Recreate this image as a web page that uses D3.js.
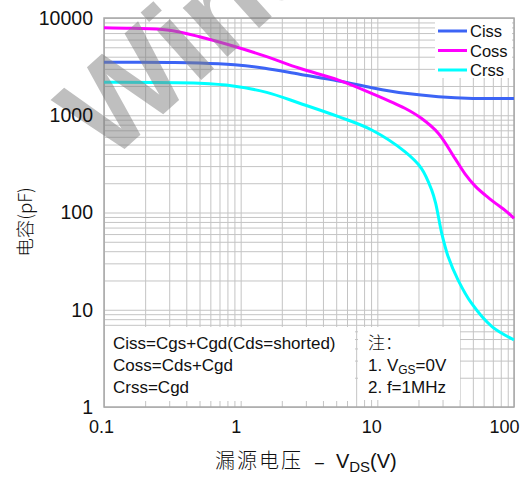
<!DOCTYPE html>
<html>
<head>
<meta charset="utf-8">
<script src="https://cdn.jsdelivr.net/npm/d3@7"></script>
<style>
  body { margin: 0; background: #fff; }
  svg { display: block; font-family: Arial, "Liberation Sans", sans-serif; }
</style>
</head>
<body>
<div id="chart"></div>
<script>
// capacitance vs drain-source voltage
var cissV = [0.1, 0.3, 0.5, 0.9, 1.5, 2.7, 5.2, 9.1, 16, 28, 50, 100];
var cissC = [3500, 3490, 3450, 3300, 3050, 2640, 2250, 1920, 1680, 1550, 1490, 1490];

var cossV = [0.1, 0.16, 0.29, 0.5, 0.88, 1.55, 2.7, 5.2, 9.1, 15.9, 21, 28, 37, 43.8, 51.8, 61.9, 73.4, 86.9, 100];
var cossC = [7950, 7840, 7530, 6420, 5150, 4000, 3040, 2300, 1680, 1180, 930, 650, 360, 250, 188, 150, 124, 104, 87];

var crssV = [0.1, 0.5, 0.88, 1.55, 2.7, 5.2, 9.1, 15.9, 21, 25, 26.7, 29.6, 33, 39, 49, 69, 100];
var crssC = [2180, 2130, 2000, 1720, 1330, 967, 705, 422, 285, 170, 125, 61, 35, 20.2, 11.6, 6.7, 4.9];

var seriesNames = ["Ciss", "Coss", "Crss"];
var seriesColors = ["#3c64f5", "#ff00ff", "#00ffff"];

var xTicks = [0.1, 1, 10, 100];
var yTicks = [1, 10, 100, 1000, 10000];
var formulaLines = ["Ciss=Cgs+Cgd(Cds=shorted)", "Coss=Cds+Cgd", "Crss=Cgd"];

var W = 532, H = 477;
// plot box (don't call these top/left: window.top is read-only)
var pL = 104, pR = 514, pT = 18, pB = 407;

var svg = d3.select("#chart").append("svg")
  .attr("width", W)
  .attr("height", H);

var x = d3.scaleLog().domain([0.1, 100]).range([pL, pR]);
var y = d3.scaleLog().domain([1, 10000]).range([pB, pT]);

// minor + major grid values
var xGrid = [], yGrid = [];
[0.1, 1, 10].forEach(function (d) { for (var k = 1; k < 10; k++) xGrid.push(d * k); });
xGrid.push(100);
[1, 10, 100, 1000].forEach(function (d) { for (var k = 1; k < 10; k++) yGrid.push(d * k); });
yGrid.push(10000);

var gridColor = "#c4c4c4";

svg.append("g")
  .attr("transform", "translate(0," + pB + ")")
  .call(d3.axisBottom(x).tickValues(xGrid).tickSize(-(pB - pT)).tickFormat(""))
  .call(function (g) { g.select(".domain").remove(); })
  .selectAll("line").attr("stroke", gridColor);

svg.append("g")
  .attr("transform", "translate(" + pL + ",0)")
  .call(d3.axisLeft(y).tickValues(yGrid).tickSize(-(pR - pL)).tickFormat(""))
  .call(function (g) { g.select(".domain").remove(); })
  .selectAll("line").attr("stroke", gridColor);

// frame
svg.append("rect")
  .attr("x", pL).attr("y", pT)
  .attr("width", pR - pL).attr("height", pB - pT)
  .attr("fill", "none")
  .attr("stroke", "#a8a8a8")
  .attr("stroke-width", 1.5);

// note boxes at the bottom of the plot
svg.append("rect").attr("x", pL + 1).attr("y", 327).attr("width", 250).attr("height", 74).attr("fill", "#fff");
svg.append("rect").attr("x", 358).attr("y", 327).attr("width", 102).attr("height", 73).attr("fill", "#fff");

var note = svg.append("g").attr("font-size", 17).attr("fill", "#111");
formulaLines.forEach(function (t, i) {
  note.append("text").attr("x", 113).attr("y", 349 + i * 22).text(t);
});
note.append("text").attr("x", 368).attr("y", 349)
  .attr("font-family", "'Noto Sans CJK SC', sans-serif").attr("font-weight", 300)
  .text("注：");
var n1 = note.append("text").attr("x", 368).attr("y", 371);
n1.append("tspan").text("1. V");
n1.append("tspan").attr("font-size", 12).attr("dy", 3).text("GS");
n1.append("tspan").attr("dy", -3).text("=0V");
note.append("text").attr("x", 368).attr("y", 393).text("2. f=1MHz");

// curves
var line = d3.line()
  .x(function (d) { return x(d[0]); })
  .y(function (d) { return y(d[1]); })
  .curve(d3.curveCatmullRom.alpha(0.5));

var series = [
  d3.zip(cissV, cissC),
  d3.zip(cossV, cossC),
  d3.zip(crssV, crssC)
];

series.forEach(function (pts, i) {
  svg.append("path")
    .datum(pts)
    .attr("d", line)
    .attr("fill", "none")
    .attr("stroke", seriesColors[i])
    .attr("stroke-width", 3);
});

// legend
svg.append("rect").attr("x", 435).attr("y", pT + 1).attr("width", 77).attr("height", 59).attr("fill", "#fff");
seriesNames.forEach(function (name, i) {
  var ly = 31 + i * 19.5;
  svg.append("line")
    .attr("x1", 438).attr("x2", 467)
    .attr("y1", ly).attr("y2", ly)
    .attr("stroke", seriesColors[i])
    .attr("stroke-width", 3);
  svg.append("text")
    .attr("x", 470).attr("y", ly + 6)
    .attr("font-size", 16.5)
    .attr("fill", "#111")
    .text(name);
});

// watermark, drawn over the curves like in the scan
svg.append("text")
  .attr("transform", "translate(108,164) rotate(-42)")
  .attr("font-size", 125)
  .attr("font-weight", "bold")
  .attr("fill", "#808080")
  .attr("opacity", 0.5)
  .text("Winsok");

// tick labels
svg.append("g")
  .attr("transform", "translate(" + pL + ",0)")
  .call(d3.axisLeft(y).tickValues(yTicks).tickSize(0).tickPadding(11).tickFormat(d3.format("d")))
  .call(function (g) { g.select(".domain").remove(); })
  .selectAll("text")
  .attr("font-size", 19.5)
  .attr("font-family", "Arial, 'Liberation Sans', sans-serif")
  .attr("fill", "#111");

var xOffsets = [-3, -5, -6, -10];
svg.append("g")
  .attr("transform", "translate(0," + pB + ")")
  .call(d3.axisBottom(x).tickValues(xTicks).tickSize(0).tickPadding(13)
    .tickFormat(function (d) { return d < 1 ? "0.1" : d3.format("d")(d); }))
  .call(function (g) { g.select(".domain").remove(); })
  .selectAll("text")
  .attr("font-size", 18)
  .attr("font-family", "Arial, 'Liberation Sans', sans-serif")
  .attr("fill", "#111")
  .attr("dx", function (d, i) { return xOffsets[i]; });

// axis titles
var xt = svg.append("text")
  .attr("x", 215).attr("y", 468)
  .attr("font-size", 20)
  .attr("fill", "#111");
xt.append("tspan")
  .attr("font-family", "'Noto Sans CJK SC', sans-serif")
  .attr("font-weight", 300)
  .attr("letter-spacing", 2)
  .text("漏源电压");
xt.append("tspan").attr("dx", 12).attr("font-size", 16).text("–");
xt.append("tspan").attr("dx", 12).text("V");
xt.append("tspan").attr("font-size", 15).attr("dy", 4).text("DS");
xt.append("tspan").attr("dy", -4).text("(V)");

svg.append("text")
  .attr("transform", "translate(32,222) rotate(-90)")
  .attr("text-anchor", "middle")
  .attr("font-size", 18.5)
  .attr("fill", "#111")
  .attr("font-family", "'Noto Sans CJK SC', Arial, sans-serif")
  .attr("font-weight", 300)
  .text("电容(pF)");
</script>
</body>
</html>
